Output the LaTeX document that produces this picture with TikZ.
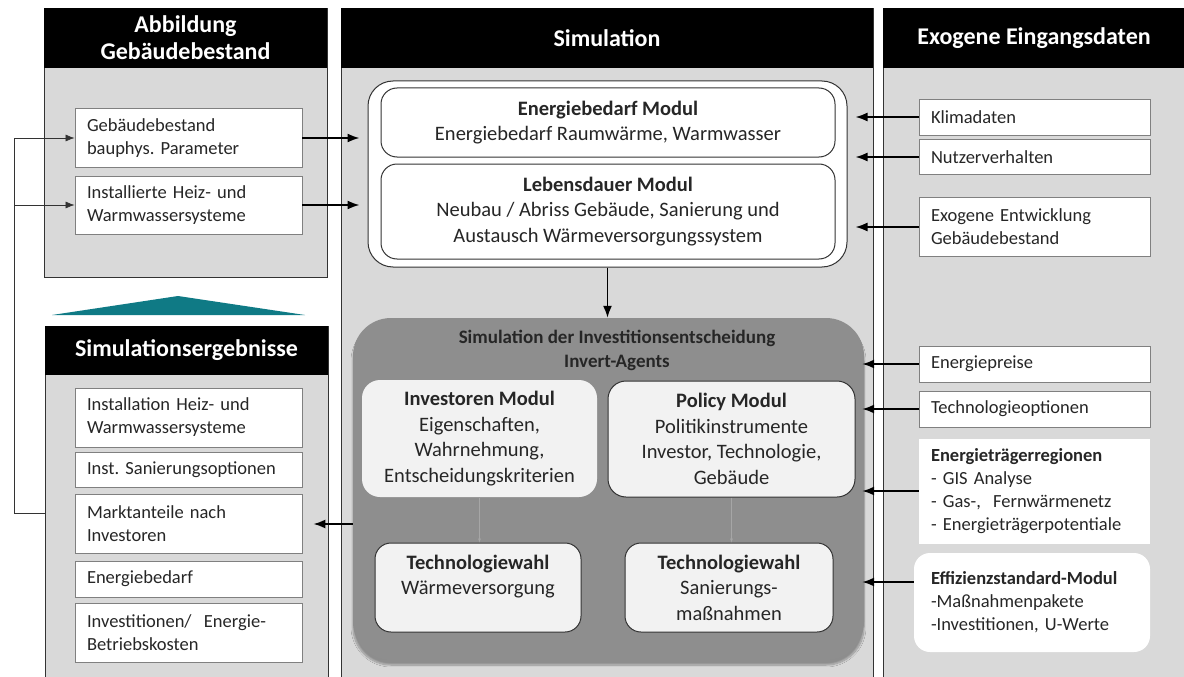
\documentclass[tikz,border=0pt]{standalone}
\usepackage{fontspec}
\setmainfont{Carlito}
\usetikzlibrary{arrows.meta,shadows.blur}
\frenchspacing

\definecolor{panelgray}{HTML}{D9D9D9}
\definecolor{darkbox}{HTML}{8E8E8E}
\definecolor{lightbox}{HTML}{F2F2F2}
\definecolor{tealtri}{HTML}{0F7A85}
\definecolor{txt}{HTML}{262626}
\definecolor{faint}{HTML}{A6A6A6}

\newcommand{\headfont}{\fontsize{24}{27}\selectfont\bfseries}
\newcommand{\boxfont}{\fontsize{18.5}{23}\selectfont}
\newcommand{\modfont}{\fontsize{20.5}{25.5}\selectfont}
\newcommand{\titlefont}{\fontsize{19}{24}\selectfont\bfseries}

\tikzset{
  panel/.style={draw=black!80, fill=panelgray, line width=0.8pt, inner sep=0pt},
  header/.style={fill=black, text=white, font=\headfont, align=center, inner sep=0pt},
  databox/.style={draw=black!50, fill=white, line width=0.8pt, text=txt, font=\boxfont, align=left, inner xsep=12pt, inner ysep=0pt},
  modbox/.style={draw=black!80, fill=lightbox, rounded corners=16pt, line width=1pt, text=txt, font=\modfont, align=center, inner sep=0pt},
  arr/.style={-{Latex[length=12pt,width=9pt]}, line width=1.7pt, black},
  thinarr/.style={-{Latex[length=9pt,width=7pt]}, line width=0.7pt, black!80},
}

\begin{document}
\begin{tikzpicture}[x=1pt,y=-1pt]
  \useasboundingbox (0,0) rectangle (1184,677);

  % panels
  \node[panel, minimum width=283pt, minimum height=269pt] (abbpanel) at (185.5,142.5) {};
  \node[header, minimum width=283pt, minimum height=60pt] (abbhead) at (185.5,38) {Abbildung\\Gebäudebestand};
  \node[panel, minimum width=283pt, minimum height=364pt] (respanel) at (186.5,508) {};
  \node[header, minimum width=283pt, minimum height=49pt] (reshead) at (186.5,350.5) {Simulationsergebnisse};
  \node[panel, minimum width=532pt, minimum height=682pt] (simpanel) at (607,349) {};
  \node[header, minimum width=532pt, minimum height=60pt] (simhead) at (607,38) {Simulation};
  \node[panel, minimum width=302pt, minimum height=682pt] (exopanel) at (1034,349) {};
  \node[header, minimum width=302pt, minimum height=60pt] (exohead) at (1034,38) {Exogene Eingangsdaten};

  \fill[tealtri] (52,315) -- (178,296) -- (305,315) -- cycle;

  % Gebaeudebestand
  \node[databox, text width=203pt, minimum height=59pt] (geb) at (188.5,138) {Gebäudebestand\\bauphys. Parameter};
  \node[databox, text width=203pt, minimum height=58pt] (heiz) at (188.5,205) {Installierte Heiz- und\\Warmwassersysteme};

  % Ergebnisse
  \node[databox, text width=203pt, minimum height=59pt] (res1) at (188.5,417.5) {Installation Heiz- und\\Warmwassersysteme};
  \node[databox, text width=203pt, minimum height=35pt] (res2) at (188.5,469.5) {Inst. Sanierungsoptionen};
  \node[databox, text width=203pt, minimum height=59pt] (res3) at (188.5,524) {Marktanteile nach\\Investoren};
  \node[databox, text width=203pt, minimum height=36pt] (res4) at (188.5,579) {Energiebedarf};
  \node[databox, text width=203pt, minimum height=59pt] (res5) at (188.5,632.5) {Investitionen/~ Energie-\\Betriebskosten};

  % exogene Daten
  \node[databox, text width=207pt, minimum height=36pt] (klima) at (1034.5,117) {Klimadaten};
  \node[databox, text width=207pt, minimum height=35pt] (nutzer) at (1034.5,157) {Nutzerverhalten};
  \node[databox, text width=207pt, minimum height=59pt] (exo) at (1034.5,227) {Exogene Entwicklung\\Gebäudebestand};
  \node[databox, text width=207pt, minimum height=36pt] (preise) at (1034.5,364) {Energiepreise};
  \node[databox, text width=207pt, minimum height=36pt] (techopt) at (1034.5,409) {Technologieoptionen};
  \node[databox, draw=none, text width=207pt, minimum height=105pt] (etr) at (1034.5,491)
    {\textbf{Energieträgerregionen}\\- GIS Analyse\\- Gas-,~ Fernwärmenetz\\- Energieträgerpotentiale};
  \node[databox, draw=none, rounded corners=16pt, inner xsep=17pt, text width=202pt, minimum height=99pt] (eff) at (1032,602.5)
    {\textbf{Effizienzstandard-Modul}\\-Maßnahmenpakete\\-Investitionen, U-Werte};

  % Simulation
  \node[modbox, fill=white, rounded corners=25pt, minimum width=479pt, minimum height=186pt] (outer) at (607.5,174) {};
  \node[modbox, fill=white, minimum width=454pt, minimum height=69pt] (ebm) at (608,122.5)
    {\textbf{Energiebedarf Modul}\\Energiebedarf Raumwärme, Warmwasser};
  \node[modbox, fill=white, minimum width=454pt, minimum height=95pt] (ldm) at (608,211.5)
    {\textbf{Lebensdauer Modul}\\Neubau / Abriss Gebäude, Sanierung und\\Austausch Wärmeversorgungssystem};

  \node[draw=none, fill=darkbox, rounded corners=38pt, minimum width=511pt, minimum height=342pt,
    blur shadow={shadow xshift=0pt, shadow yshift=-5pt, shadow blur steps=10, shadow opacity=35}] (dark) at (608.5,489) {};
  \node[font=\titlefont, text=txt, align=center] (title) at (617,350) {Simulation der Investitionsentscheidung\\Invert-Agents};
  \node[modbox, draw=none, rounded corners=18pt, minimum width=235pt, minimum height=117pt] (inv) at (479.5,438.5)
    {\textbf{Investoren Modul}\\Eigenschaften,\\Wahrnehmung,\\Entscheidungskriterien};
  \node[modbox, rounded corners=18pt, minimum width=247pt, minimum height=116pt] (pol) at (731.5,439)
    {\textbf{Policy Modul}\\Politikinstrumente\\Investor, Technologie,\\Gebäude};
  \node[modbox, minimum width=206pt, minimum height=89pt] (tw1) at (478,587.5)
    {\textbf{Technologiewahl}\\Wärmeversorgung\\\mbox{}};
  \node[modbox, minimum width=208pt, minimum height=89pt] (tw2) at (729,587.5)
    {\textbf{Technologiewahl}\\Sanierungs-\\maßnahmen};

  % connectors
  \draw[arr, shorten >=8pt] (geb.east) -- (geb.east -| outer.west);
  \draw[arr, shorten >=8pt] (heiz.east) -- (heiz.east -| outer.west);
  \draw[arr, shorten >=8pt] (klima.west) -- (klima.west -| outer.east);
  \draw[arr, shorten >=8pt] (nutzer.west) -- (nutzer.west -| outer.east);
  \draw[arr, shorten >=8pt] (exo.west) -- (exo.west -| outer.east);
  \draw[arr] (outer.south) -- (outer.south |- dark.north);
  \draw[arr, shorten >=-2pt] (preise.west) -- (preise.west -| dark.east);
  \draw[arr, shorten >=-2pt] (techopt.west) -- (techopt.west -| dark.east);
  \draw[arr, shorten >=-2pt] (etr.west) -- (etr.west -| dark.east);
  \draw[arr, shorten >=-2pt] ([yshift=20.5pt]eff.west) -- ([yshift=20.5pt]eff.west -| dark.east);
  \draw[arr, shorten >=11pt] (res3.east -| dark.west) -- (res3.east);
  \draw[-{Latex[length=4pt,width=3pt]}, line width=0.5pt, faint] (inv.south) -- (inv.south |- tw1.north);
  \draw[-{Latex[length=4pt,width=3pt]}, line width=0.5pt, faint] (pol.south) -- (pol.south |- tw2.north);

  % Rueckkopplung
  \coordinate (fbtop) at (14,138);
  \coordinate (fbbot) at (14,513);
  \draw[line width=0.7pt, black!80] (respanel.west |- fbbot) -- (fbbot) -- (fbtop);
  \draw[thinarr] (fbtop) -- (geb.west);
  \draw[thinarr] (fbtop |- heiz.west) -- (heiz.west);
\end{tikzpicture}
\end{document}
